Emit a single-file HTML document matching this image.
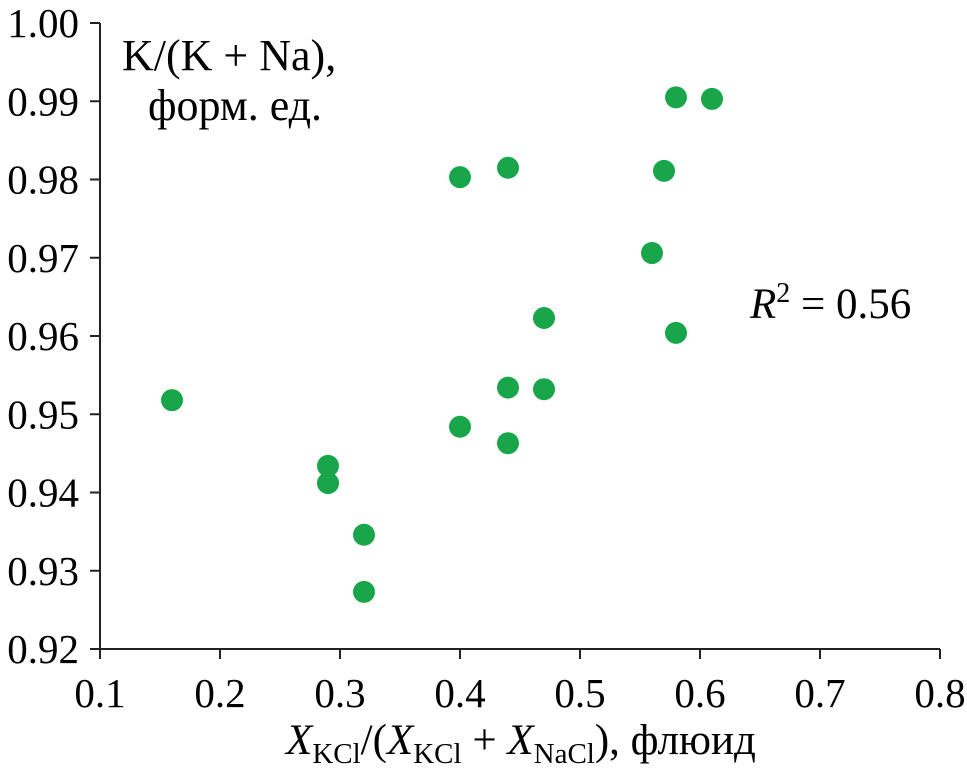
<!DOCTYPE html>
<html><head><meta charset="utf-8"><style>
body{margin:0;background:#fff}
svg{display:block;font-family:"Liberation Serif",serif}
</style></head><body>
<svg id="chart" width="967" height="769">
<g id="axes"></g><g id="pts"></g>
<text x="122" y="70" font-size="44">K/(K + Na),</text>
<text x="148" y="120" font-size="44">форм. ед.</text>
<text x="750" y="318" font-size="43"><tspan font-style="italic">R</tspan><tspan dy="-16" font-size="28">2</tspan><tspan dy="16"> = 0.56</tspan></text>
<text x="521" y="754" font-size="43" text-anchor="middle"><tspan font-style="italic">X</tspan><tspan font-size="29" dy="9">KCl</tspan><tspan dy="-9">/(</tspan><tspan font-style="italic">X</tspan><tspan font-size="29" dy="9">KCl</tspan><tspan dy="-9"> + </tspan><tspan font-style="italic">X</tspan><tspan font-size="29" dy="9">NaCl</tspan><tspan dy="-9">), флюид</tspan></text>
</svg>
<script>
const xs=[0.16,0.29,0.29,0.32,0.32,0.40,0.40,0.44,0.44,0.44,0.47,0.47,0.56,0.57,0.58,0.58,0.61];
const ys=[0.9518,0.9434,0.9412,0.9346,0.9273,0.9803,0.9484,0.9815,0.9534,0.9463,0.9623,0.9532,0.9706,0.9811,0.9905,0.9604,0.9903];
const xTicks=["0.1","0.2","0.3","0.4","0.5","0.6","0.7","0.8"];
const yTicks=["0.92","0.93","0.94","0.95","0.96","0.97","0.98","0.99","1.00"];
const NS="http://www.w3.org/2000/svg";
const X=v=>100+(v-0.1)/0.7*840;
const Y=v=>649-(v-0.92)/0.08*626;
const ax=document.getElementById('axes'),pg=document.getElementById('pts');
function mk(t,a,p){const e=document.createElementNS(NS,t);for(const k in a)e.setAttribute(k,a[k]);p.appendChild(e);return e;}
let l=mk('line',{x1:100,y1:Y(0.92),x2:100,y2:Y(1.0),stroke:'#222','stroke-width':2},ax);


l=mk('line',{x1:100,y1:Y(0.92),x2:X(0.8),y2:Y(0.92),stroke:'#222','stroke-width':2},ax);


yTicks.forEach(t=>{const y=Y(+t);
 const tk=mk('line',{x1:90,y1:y,x2:100,y2:y,stroke:'#222','stroke-width':2},ax);
 
 
 const tx=mk('text',{x:79,y:y+14,'font-size':41,'text-anchor':'end'},ax);tx.textContent=t;
 
 
});
xTicks.forEach(t=>{const x=X(+t);
 const tk=mk('line',{x1:x,y1:Y(0.92),x2:x,y2:Y(0.92)+10,stroke:'#222','stroke-width':2},ax);
 
 
 const tx=mk('text',{x:x,y:707,'font-size':41,'text-anchor':'middle'},ax);tx.textContent=t;
 
 
});
xs.forEach((v,i)=>{const c=mk('circle',{cx:X(v),cy:Y(ys[i]),r:11,fill:'#19a64b'},pg);
 
 
});
</script>
</body></html>
